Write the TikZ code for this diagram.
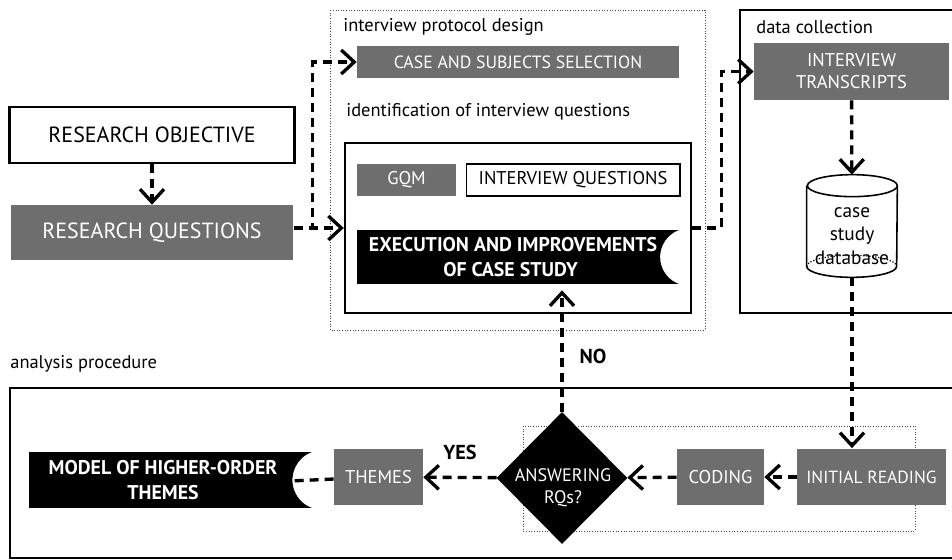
\documentclass[tikz,border=0pt]{standalone}
\usepackage{fontspec}
\setmainfont{PT Sans}
\usetikzlibrary{shapes.geometric,arrows.meta}
\definecolor{boxgray}{HTML}{6E6E6E}
\begin{document}
\begin{tikzpicture}[x=0.02cm, y=-0.02cm, font=\fontsize{10.5}{12.5}\selectfont,
  flow/.style={line width=1.9pt, dash pattern=on 1.8mm off 1.2mm, -{Straight Barb[length=2.6mm,width=4.8mm]}},
  dashline/.style={line width=1.9pt, dash pattern=on 1.8mm off 1.2mm},
  graybox/.style={fill=boxgray, text=white, inner sep=0pt, align=center},
  plainbox/.style={draw, line width=1.4pt, inner sep=0pt, align=center},
  thinbox/.style={draw, line width=0.6pt, inner sep=0pt, align=center},
  frame/.style={draw, line width=1.4pt},
  dotframe/.style={draw=black!70, densely dotted, line width=0.5pt},
  caption/.style={anchor=west, inner sep=0pt},
  big/.style={font=\fontsize{12.5}{15}\selectfont},
  banner/.style={fill=white, inner sep=0pt, align=center, text=white,
    font=\fontsize{11.3}{14.5}\selectfont\bfseries,
    path picture={\fill [black] (path picture bounding box.north west) -- (path picture bounding box.north east)
      arc[start angle=110, end angle=250, radius=#1] -- (path picture bounding box.south west) -- cycle;}}]
\useasboundingbox (0,0) rectangle (952,560);

% frames
\draw [dotframe] (330,10) rectangle (705,330);
\draw [frame] (740,10) rectangle (965,313);
\draw [frame] (10,388) rectangle (965,558);
\draw [dotframe] (523,426) rectangle (915,531);

\node [caption] (lbproto) at (343,27) {interview protocol design};
\node [caption] (lbident) at (346,112) {identification of interview questions};
\node [caption] (lbdata) at (756,27) {data collection};
\node [caption] (lbana) at (10,364) {analysis procedure};

\node [plainbox, big, minimum width=5.7cm, minimum height=1.12cm] (obj) at (152,135) {RESEARCH OBJECTIVE};
\node [graybox, big, minimum width=5.66cm, minimum height=1.1cm] (rq) at (152,232.5) {RESEARCH QUESTIONS};

\node [graybox, font=\fontsize{10.1}{12}\selectfont, minimum width=6.44cm, minimum height=0.64cm] (cs) at (518,62) {CASE AND SUBJECTS SELECTION};
\node [frame, minimum width=6.92cm, minimum height=3.4cm] (idq) at (518,228) {};
\node [graybox, minimum width=1.98cm, minimum height=0.64cm] (gqm) at (406.5,180) {GQM};
\node [thinbox, minimum width=4.28cm, minimum height=0.64cm] (iq) at (573,180) {INTERVIEW QUESTIONS};
\node [banner=0.575cm, minimum width=6.44cm, minimum height=1.08cm] (ex) at (518,257) {EXECUTION AND IMPROVEMENTS\hspace*{0.2cm}\\OF CASE STUDY\hspace*{0.3cm}};

\node [graybox, minimum width=3.9cm, minimum height=1.14cm] (tr) at (851.5,71.5) {INTERVIEW\\TRANSCRIPTS};
\node [minimum width=1.8cm, minimum height=2.04cm, inner sep=0pt] (db) at (852,226) {};
\draw [line width=0.9pt] ([yshift=-0.22cm]db.north west) -- ([yshift=0.22cm]db.south west)
  arc[start angle=180, end angle=360, x radius=0.9cm, y radius=0.22cm] -- ([yshift=-0.22cm]db.north east)
  arc[start angle=0, end angle=360, x radius=0.9cm, y radius=0.22cm];
\draw [densely dotted, line width=0.7pt] ([yshift=0.22cm]db.south west)
  arc[start angle=180, end angle=0, x radius=0.9cm, y radius=0.22cm];
\node [align=center, inner sep=0pt, font=\fontsize{11}{13.5}\selectfont] (dbtext) at ([yshift=-0.2cm]db.center) {case\\study\\database};

\node [graybox, font=\fontsize{10}{12}\selectfont, minimum width=2.98cm, minimum height=1.14cm] (ir) at (871.5,477) {INITIAL READING};
\node [graybox, minimum width=1.74cm, minimum height=1.14cm] (cod) at (720.5,477) {CODING};
\node [diamond, aspect=1, fill=black, inner sep=0pt,
  minimum width=2.62cm, minimum height=2.64cm] (dm) at (562,478) {};
\node [text=white, align=center, inner sep=0pt, font=\fontsize{10.3}{12.5}\selectfont] (dmtext) at (563,488) {ANSWERING\\RQs?};
\node [graybox, minimum width=1.78cm, minimum height=1.14cm] (thm) at (378.5,477) {THEMES};
\node [banner=0.596cm, minimum width=5.66cm, minimum height=1.12cm] (mdl) at (170.5,480) {MODEL OF HIGHER-ORDER\hspace*{0.3cm}\\THEMES\hspace*{0.3cm}};

\path [flow]
  (obj) edge (rq)
  (rq.east |- idq.west) edge (idq.west)
  (tr) edge (db)
  (db.south) edge (db.south |- ir.north)
  (ir) edge (cod)
  (cod) edge (dm)
  (dm) edge node [above=2mm, font=\fontsize{11.5}{13}\selectfont\bfseries] (yes) {YES} (thm)
  (dm.north) edge [shorten >=0.12cm] node [pos=0.43, right=2mm, font=\fontsize{11.5}{13}\selectfont\bfseries] (no) {NO} (dm.north |- ex.south)
  ;
\draw [flow] (rq.east |- idq.west) -- ++(19,0) |- (cs.west);
\draw [flow] (idq.east) -- ++(29,0) |- (tr.west);
\draw [dashline, shorten >=-0.36cm] (thm) -- (mdl.east);
\end{tikzpicture}
\end{document}
